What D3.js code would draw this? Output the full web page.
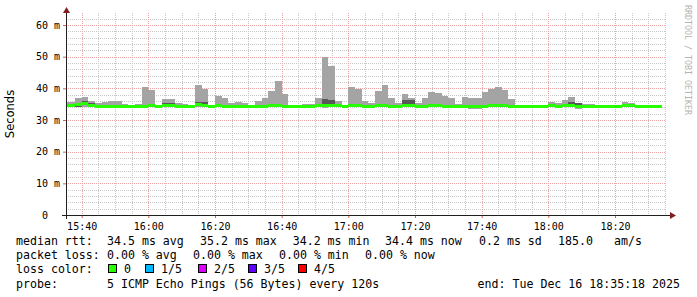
<!DOCTYPE html>
<html>
<head>
<meta charset="utf-8">
<script src="https://cdn.jsdelivr.net/npm/d3@7"></script>
<style>
body { margin: 0; background: #fff; }
svg { display: block; }
</style>
</head>
<body>
<div id="chart"></div>
<script>

// time window of the graph (3 hours, 120s steps)
var tStart = new Date(2025, 11, 16, 15, 35, 18);
var tEnd = new Date(2025, 11, 16, 18, 35, 18);
var firstBarEnd = new Date(2025, 11, 16, 15, 36, 0);
var barEnds = d3.range(90).map(function(i) { return d3.timeMinute.offset(firstBarEnd, 2 * i); });

// smoke: min / 2nd / median / 4th / max ping of 5 (ms)
var maxV = [35.8,35.8,37.0,37.4,36.0,35.3,35.7,36.0,36.0,35.0,
            34.4,35.0,40.3,39.5,34.4,36.6,36.6,35.5,35.0,34.4,
            41.0,39.8,34.5,37.6,37.0,35.3,35.7,35.3,34.4,36.0,
            37.0,39.2,42.3,38.2,34.4,34.4,35.0,35.0,37.0,50.0,
            47.0,36.0,34.5,40.4,39.8,36.0,35.3,39.2,41.0,37.0,
            35.3,38.2,37.0,35.3,37.0,38.8,38.5,37.7,37.0,35.0,
            37.3,37.0,37.0,38.8,39.8,40.4,39.5,36.7,34.7,34.5,
            34.7,34.5,34.5,35.7,35.3,36.3,37.3,35.3,35.0,35.0,
            34.5,34.5,34.5,34.5,35.7,35.3,34.7,34.5,34.8,34.8];

var highV = [34.7,34.7,35.0,36.0,35.3,34.5,34.5,34.5,34.5,34.5,
             34.5,34.5,34.5,34.6,34.5,35.5,35.5,34.5,34.5,34.5,
             35.8,35.6,34.5,34.6,34.5,34.5,34.4,34.4,34.5,34.5,
             34.5,35.2,35.2,34.5,34.5,34.4,34.5,34.5,34.6,36.6,
             36.2,34.6,34.5,34.6,34.6,34.5,34.5,34.6,34.7,34.5,
             34.5,36.3,36.3,34.5,34.5,34.6,34.6,34.5,34.5,34.5,
             34.4,34.3,34.3,34.5,35.1,34.6,34.6,34.5,34.5,34.5,
             34.5,34.5,34.5,34.6,34.5,34.6,35.7,35.5,34.5,34.5,
             34.5,34.5,34.5,34.5,34.6,34.6,34.5,34.5,34.5,34.5];

var medV = [34.5,34.5,34.8,35.1,34.6,34.4,34.4,34.4,34.4,34.4,
            34.4,34.4,34.4,34.5,34.4,34.5,34.5,34.4,34.4,34.4,
            34.8,34.6,34.4,34.5,34.4,34.4,34.3,34.3,34.4,34.4,
            34.4,34.5,34.6,34.4,34.4,34.3,34.4,34.4,34.5,34.7,
            34.6,34.5,34.4,34.5,34.5,34.4,34.4,34.5,34.6,34.4,
            34.4,34.6,34.6,34.4,34.4,34.5,34.5,34.4,34.4,34.4,
            34.3,34.2,34.2,34.4,34.5,34.5,34.5,34.4,34.4,34.4,
            34.4,34.4,34.4,34.5,34.4,34.5,34.6,34.4,34.4,34.4,
            34.4,34.4,34.4,34.4,34.5,34.5,34.4,34.4,34.4,34.4];

var lowV = [34.1,34.1,34.1,35.0,34.3,34.3,34.3,34.3,34.3,34.3,
            34.3,34.3,33.95,34.4,34.3,34.3,34.3,34.3,34.3,34.3,
            34.6,34.5,34.3,34.4,34.3,34.3,34.2,34.2,34.3,34.3,
            34.3,34.4,34.4,34.3,34.3,34.2,34.3,34.3,34.4,34.3,
            34.4,34.4,34.3,34.4,34.4,34.3,34.3,34.4,34.5,34.3,
            34.3,34.5,34.5,34.3,34.3,34.4,34.4,34.3,34.3,34.3,
            34.2,34.1,34.1,34.3,34.4,34.4,34.4,34.3,34.3,34.3,
            34.3,34.3,34.3,34.4,34.3,34.4,34.5,34.2,34.3,34.3,
            34.3,34.3,34.3,34.3,34.4,34.4,34.3,34.3,34.3,34.3];

var minV = [34.0,34.0,34.0,34.0,34.0,34.0,34.0,34.0,34.0,34.0,
            34.0,34.0,33.9,34.0,34.0,34.0,34.0,34.0,34.0,34.0,
            34.1,34.0,34.0,34.0,34.0,34.0,34.0,33.7,34.0,34.0,
            34.0,34.0,34.0,34.0,34.0,34.0,34.0,34.0,34.0,33.8,
            34.0,34.0,34.0,34.0,34.0,34.0,34.0,34.0,34.0,34.0,
            34.0,34.0,34.0,34.0,34.0,34.0,34.0,34.0,34.0,34.0,
            34.0,33.5,33.5,34.0,34.0,34.0,34.0,34.0,34.0,34.0,
            34.0,34.0,34.0,34.0,34.0,34.0,34.0,33.5,34.0,34.0,
            34.0,34.0,34.0,34.0,34.0,34.0,34.0,34.0,34.0,34.0];

// all steps without loss
var lossV = d3.range(90).map(function() { return 0; });

// y ticks (ms)
var yTicks = [0, 10, 20, 30, 40, 50, 60];

// legend texts
var rttLine = [["median rtt:", 16], ["34.5 ms avg", 107], ["35.2 ms max", 200], ["34.2 ms min", 292.7],
               ["34.4 ms now", 385], ["0.2 ms sd", 479], ["185.0", 558], ["am/s", 614]];
var lossLine = [["packet loss:", 16], ["0.00 % avg", 107], ["0.00 % max", 193], ["0.00 % min", 279], ["0.00 % now", 365]];
var lossLabels = ["0", "1/5", "2/5", "3/5", "4/5"];
var lossColors = ["#26ff00", "#00b8ff", "#dd00ff", "#5e00ff", "#ff0000"];
var lossBoxX = [108, 145, 198, 248, 298];
var probeText = "5 ICMP Echo Pings (56 Bytes) every 120s";
var endText = "end: Tue Dec 16 18:35:18 2025";

// Defining parameters for drawing
var width = 697, height = 297;
var plotLeft = 66, plotRight = 666, plotTop = 15, plotBottom = 215;
var monoFont = "'DejaVu Sans Mono', monospace";

var svg = d3.select("#chart").append("svg")
	.attr("width", width).attr("height", height);

var x = d3.scaleTime().domain([tStart, tEnd]).range([plotLeft, plotRight]);
var y = d3.scaleLinear().domain([0, 63.16]).range([plotBottom, plotTop]);

// GRID (under the data)
var grid = svg.append("g").attr("stroke-dasharray", "1,1").attr("stroke-width", 1);

var minorY = d3.range(2, 64, 2).filter(function(v) { return v % 10 !== 0; });
grid.selectAll(".hminor").data(minorY).join("line")
	.attr("x1", plotLeft).attr("x2", plotRight)
	.attr("y1", function(d) { return Math.round(y(d)) + 0.5; })
	.attr("y2", function(d) { return Math.round(y(d)) + 0.5; })
	.attr("stroke", "#c8c8c8");

var minorT = d3.timeMinute.every(5).range(tStart, tEnd).filter(function(d) { return d.getMinutes() % 20 !== 0; });
grid.selectAll(".vminor").data(minorT).join("line")
	.attr("x1", function(d) { return Math.round(x(d)) + 0.5; })
	.attr("x2", function(d) { return Math.round(x(d)) + 0.5; })
	.attr("y1", 13).attr("y2", plotBottom)
	.attr("stroke", "#c8c8c8");

grid.selectAll(".hmajor").data(yTicks.slice(1)).join("line")
	.attr("x1", plotLeft).attr("x2", plotRight)
	.attr("y1", function(d) { return Math.round(y(d)) + 0.5; })
	.attr("y2", function(d) { return Math.round(y(d)) + 0.5; })
	.attr("stroke", "#eaa2a2");

var majorT = d3.timeMinute.every(20).range(tStart, tEnd);
grid.selectAll(".vmajor").data(majorT).join("line")
	.attr("x1", function(d) { return Math.round(x(d)) + 0.5; })
	.attr("x2", function(d) { return Math.round(x(d)) + 0.5; })
	.attr("y1", 13).attr("y2", plotBottom)
	.attr("stroke", "#eaa2a2");

// SMOKE
function barX(d) { return x(d3.max([tStart, d3.timeMinute.offset(d, -2)])); }
function barW(d) { return x(d) - barX(d); }

var data = svg.append("g").attr("shape-rendering", "crispEdges");

data.selectAll(".outer").data(barEnds).join("rect")
	.attr("x", barX).attr("width", barW)
	.attr("y", function(d, i) { return y(maxV[i]); })
	.attr("height", function(d, i) { return y(minV[i]) - y(maxV[i]); })
	.attr("fill", "#a4a4a4");

data.selectAll(".inner").data(barEnds).join("rect")
	.attr("x", barX).attr("width", barW)
	.attr("y", function(d, i) { return y(highV[i]); })
	.attr("height", function(d, i) { return y(lowV[i]) - y(highV[i]); })
	.attr("fill", "#585858");

// median, coloured by loss
data.selectAll(".median").data(barEnds).join("rect")
	.attr("x", barX).attr("width", barW)
	.attr("y", function(d, i) { return y(medV[i]) - 1.5; })
	.attr("height", 3)
	.attr("fill", function(d, i) { return lossColors[lossV[i]]; });

// AXES
var xAxis = svg.append("g")
	.attr("transform", "translate(0," + plotBottom + ")")
	.call(d3.axisBottom(x).tickValues(majorT).tickFormat(d3.timeFormat("%H:%M")).tickSize(3).tickPadding(5));
xAxis.select(".domain").remove();
xAxis.selectAll(".tick line").attr("stroke", "#d06060");
xAxis.selectAll("text").attr("font-family", monoFont).attr("font-size", "10px").attr("fill", "#000");

var yAxis = svg.append("g")
	.attr("transform", "translate(" + plotLeft + ",0)")
	.call(d3.axisLeft(y).tickValues(yTicks).tickFormat(function(d) { return d === 0 ? "0" : d + " m"; }).tickSize(3).tickPadding(3));
yAxis.select(".domain").remove();
yAxis.selectAll(".tick line").attr("stroke", "#d06060");
yAxis.selectAll("text").attr("font-family", monoFont).attr("font-size", "10px").attr("fill", "#000")
	.attr("x", function(d) { return d === 0 ? -18 : -6; });

// axis lines + arrows
svg.append("line").attr("x1", 62).attr("x2", 670).attr("y1", plotBottom + 0.5).attr("y2", plotBottom + 0.5)
	.attr("stroke", "#1f1f1f").attr("stroke-width", 1);
svg.append("line").attr("x1", plotLeft + 0.5).attr("x2", plotLeft + 0.5).attr("y1", 12).attr("y2", 219)
	.attr("stroke", "#1f1f1f").attr("stroke-width", 1);
svg.append("path").attr("d", "M670,212 L676,215.5 L670,219 Z").attr("fill", "#801f1f");
svg.append("path").attr("d", "M63,13 L66.5,7 L70,13 Z").attr("fill", "#801f1f");

// axis title
svg.append("text")
	.attr("transform", "translate(14,114) rotate(-90)")
	.attr("text-anchor", "middle")
	.attr("font-family", "'DejaVu Sans', sans-serif").attr("font-size", "11.5px")
	.text("Seconds");

// watermark
svg.append("text")
	.attr("transform", "translate(685,5) rotate(90)")
	.attr("font-family", monoFont).attr("font-size", "8.3px")
	.attr("fill", "#b4b4b4")
	.text("RRDTOOL / TOBI OETIKER");

// LEGEND
var legend = svg.append("g").attr("font-family", monoFont).attr("font-size", "11.6px").attr("fill", "#000");

legend.selectAll(".rtt").data(rttLine).join("text")
	.attr("x", function(d) { return d[1]; }).attr("y", 245)
	.text(function(d) { return d[0]; });

legend.selectAll(".loss").data(lossLine).join("text")
	.attr("x", function(d) { return d[1]; }).attr("y", 259)
	.text(function(d) { return d[0]; });

legend.append("text").attr("x", 16).attr("y", 273).text("loss color:");
legend.selectAll(".lossbox").data(lossColors).join("rect")
	.attr("x", function(d, i) { return lossBoxX[i] + 0.5; }).attr("y", 264.5)
	.attr("width", 8).attr("height", 8)
	.attr("fill", function(d) { return d; })
	.attr("stroke", "#000").attr("stroke-width", 1);
legend.selectAll(".losslabel").data(lossLabels).join("text")
	.attr("x", function(d, i) { return lossBoxX[i] + 16; }).attr("y", 273)
	.text(function(d) { return d; });

legend.append("text").attr("x", 16).attr("y", 288).text("probe:");
legend.append("text").attr("x", 107).attr("y", 288).text(probeText);
legend.append("text").attr("x", 680).attr("y", 288).attr("text-anchor", "end").text(endText);

</script>
</body>
</html>
